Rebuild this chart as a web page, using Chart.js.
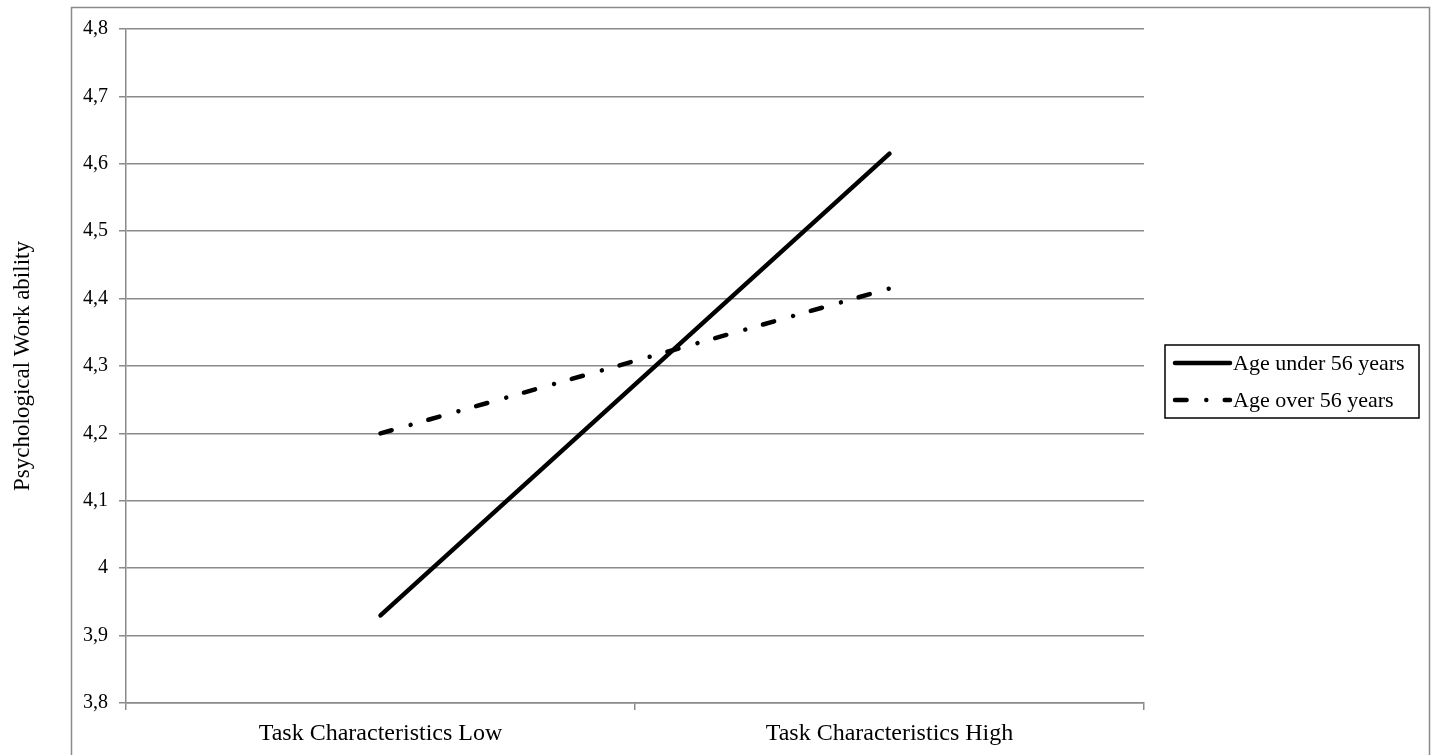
<!DOCTYPE html>
<html>
<head>
<meta charset="utf-8">
<script src="https://cdn.jsdelivr.net/npm/chart.js@4.4.1/dist/chart.umd.min.js"></script>
<style>
  html, body { margin: 0; padding: 0; background: #fff; }
  #wrap { width: 1432px; height: 755px; }
</style>
</head>
<body>
<div id="wrap"><canvas id="lineChart"></canvas></div>
<script>
// data
var categories = ['Task Characteristics Low', 'Task Characteristics High'];
var ageUnder56 = [3.93, 4.615];
var ageOver56 = [4.2, 4.415];
var yTickLabels = ['3,8', '3,9', '4', '4,1', '4,2', '4,3', '4,4', '4,5', '4,6', '4,7', '4,8'];

var serif = '"Liberation Serif", "DejaVu Serif", serif';
var gridGray = '#8a8a8a';

// outer frame of the figure
var framePlugin = {
    id: 'frame',
    beforeDraw: function (chart) {
        var ctx = chart.ctx;
        ctx.save();
        ctx.strokeStyle = gridGray;
        ctx.lineWidth = 1.5;
        ctx.strokeRect(71.5, 7.5, 1358, 800);
        ctx.restore();
    }
};

// boxed legend on the right
var boxLegendPlugin = {
    id: 'boxLegend',
    afterDraw: function (chart) {
        var ctx = chart.ctx;
        var left = 1165, top = 345, w = 254, h = 73;
        ctx.save();
        ctx.strokeStyle = '#000';
        ctx.lineWidth = 1.5;
        ctx.strokeRect(left, top, w, h);
        ctx.font = '22px ' + serif;
        ctx.textBaseline = 'middle';
        ctx.fillStyle = '#000';
        chart.data.datasets.forEach(function (ds, i) {
            var y = top + 18 + i * 37;
            ctx.save();
            ctx.strokeStyle = ds.borderColor;
            ctx.lineWidth = ds.borderWidth;
            ctx.lineCap = ds.borderCapStyle || 'butt';
            ctx.setLineDash(ds.borderDash || []);
            ctx.beginPath();
            ctx.moveTo(left + 10, y);
            ctx.lineTo(left + 65, y);
            ctx.stroke();
            ctx.restore();
            ctx.fillText(ds.label, left + 68, y + 1);
        });
        ctx.restore();
    }
};

var ctx = document.getElementById('lineChart').getContext('2d');
var lineChart = new Chart(ctx, {
    type: 'line',
    data: {
        labels: categories,
        datasets: [{
            label: 'Age under 56 years',
            data: ageUnder56,
            borderColor: '#000',
            borderWidth: 4.5,
            borderCapStyle: 'round',
            pointRadius: 0,
            tension: 0
        }, {
            label: 'Age over 56 years',
            data: ageOver56,
            borderColor: '#000',
            borderWidth: 4.5,
            borderCapStyle: 'round',
            borderDash: [11.6, 19.7, 0.01, 18.4],
            pointRadius: 0,
            tension: 0
        }]
    },
    options: {
        responsive: true,
        maintainAspectRatio: false,
        animation: false,
        layout: {
            padding: { top: 29, right: 288, bottom: 0, left: 0 }
        },
        plugins: {
            legend: { display: false },
            tooltip: { enabled: false }
        },
        scales: {
            x: {
                offset: true,
                grid: {
                    offset: true,
                    drawOnChartArea: false,
                    drawTicks: true,
                    tickLength: 7,
                    color: gridGray,
                    lineWidth: 1.5
                },
                border: { color: gridGray, width: 1.5 },
                ticks: {
                    color: '#000',
                    padding: 9,
                    font: { family: serif, size: 24 },
                    maxRotation: 0
                },
                afterFit: function (scale) { scale.height = 52; }
            },
            y: {
                min: 3.8,
                max: 4.8,
                ticks: {
                    stepSize: 0.1,
                    color: '#000',
                    padding: 11,
                    font: { family: serif, size: 20 },
                    callback: function (value, index) { return yTickLabels[index]; }
                },
                grid: {
                    color: gridGray,
                    lineWidth: 1.5,
                    tickLength: 7
                },
                border: { color: gridGray, width: 1.5 },
                title: {
                    display: true,
                    text: 'Psychological Work ability',
                    color: '#000',
                    font: { family: serif, size: 23 },
                    padding: { top: 9, bottom: 0 }
                },
                afterFit: function (scale) { scale.width = 126; }
            }
        }
    },
    plugins: [framePlugin, boxLegendPlugin]
});
</script>
</body>
</html>
